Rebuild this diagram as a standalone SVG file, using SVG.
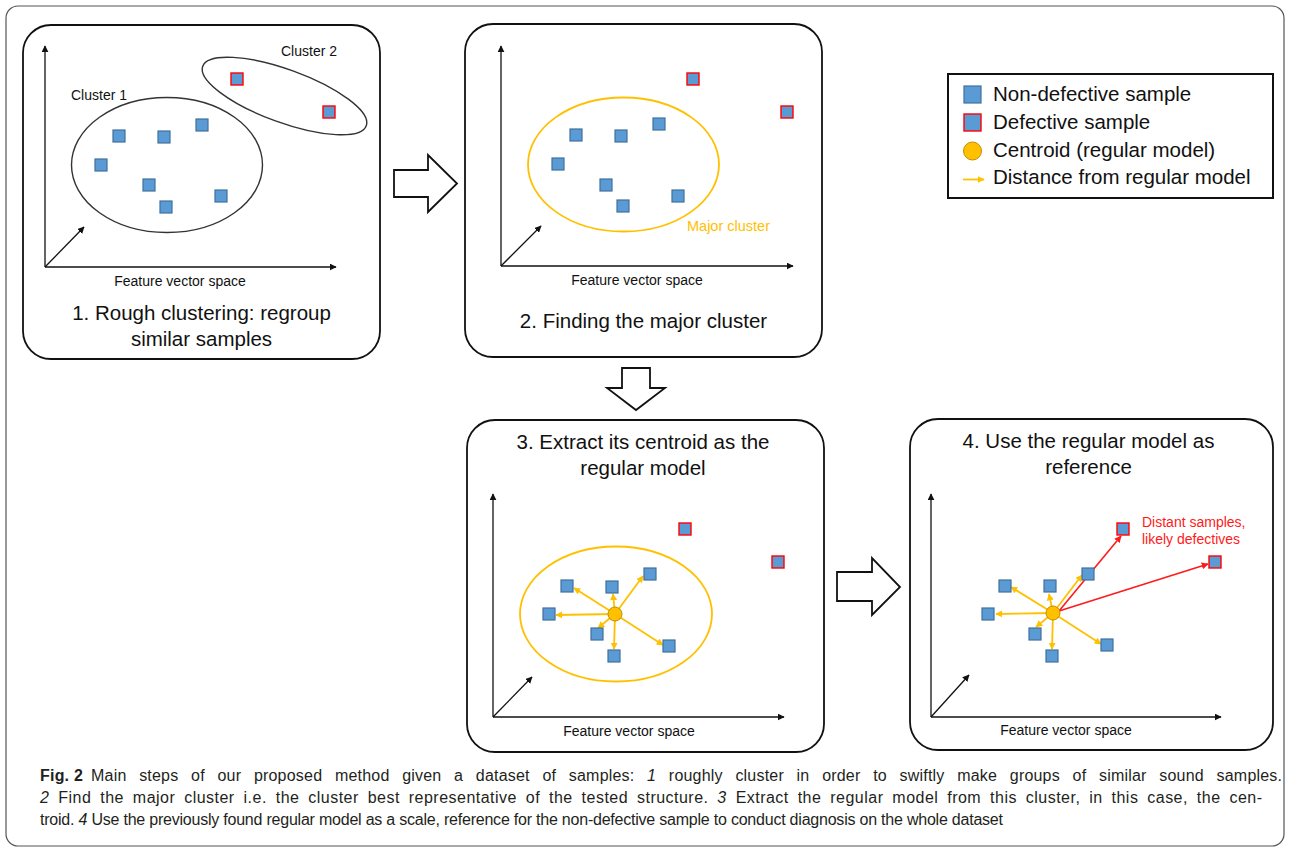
<svg xmlns="http://www.w3.org/2000/svg" width="1290" height="851" viewBox="0 0 1290 851">
<style>
.frame{fill:none;stroke:#111;stroke-width:1.8}
.ax{fill:none;stroke:#111;stroke-width:1.3}
.s{fill:#5B9BD5;stroke:#41719C;stroke-width:1.2}
.d{fill:#5B9BD5;stroke:#FF0000;stroke-width:1.4}
.cen{fill:#FFC000;stroke:#BF9000;stroke-width:1}
.oa{fill:none;stroke:#FFC000;stroke-width:1.8}
.ra{fill:none;stroke:#FF1A1A;stroke-width:1.6}
.el{fill:none;stroke:#333;stroke-width:1.4}
.eo{fill:none;stroke:#FFC000;stroke-width:1.8}
.blk{fill:#fff;stroke:#111;stroke-width:1.8;stroke-linejoin:miter}
text{font-family:"Liberation Sans",Arial,sans-serif;fill:#111}
.t{font-size:20.5px;text-anchor:middle}
.f{font-size:14px;text-anchor:middle}
.c{font-size:14px}
.lg{font-size:20.5px}
.cap{font-size:16px;fill:#231f20}
</style>
<defs>
<marker id="ah" viewBox="0 0 10 10" refX="9" refY="5" markerWidth="7" markerHeight="7" markerUnits="userSpaceOnUse" orient="auto"><path d="M0,0 L10,5 L0,10 z" fill="#111"/></marker>
<marker id="ao" viewBox="0 0 10 10" refX="9" refY="5" markerWidth="7" markerHeight="7" markerUnits="userSpaceOnUse" orient="auto"><path d="M0,0 L10,5 L0,10 z" fill="#FFC000"/></marker>
<marker id="ar" viewBox="0 0 10 10" refX="9" refY="5" markerWidth="7" markerHeight="7" markerUnits="userSpaceOnUse" orient="auto"><path d="M0,0 L10,5 L0,10 z" fill="#FF1A1A"/></marker>
</defs>

<rect x="6" y="6" width="1278" height="840" rx="12" fill="#fff" stroke="#555" stroke-width="1.2"/>

<g id="panel1">
<rect class="frame" x="23" y="25" width="357" height="334" rx="28"/>
<line class="ax" x1="45" y1="267" x2="45" y2="46" marker-end="url(#ah)"/>
<line class="ax" x1="45" y1="267" x2="336" y2="267" marker-end="url(#ah)"/>
<line class="ax" x1="45" y1="267" x2="84" y2="227" marker-end="url(#ah)"/>
<ellipse class="el" cx="167" cy="165" rx="95.5" ry="67.5"/>
<ellipse class="el" cx="284.5" cy="96" rx="87" ry="26.5" transform="rotate(20 284.5 96)"/>
<text class="c" x="71" y="100">Cluster 1</text>
<text class="c" x="281" y="56">Cluster 2</text>
<rect class="s" x="113" y="130" width="12" height="12"/>
<rect class="s" x="158" y="131" width="12" height="12"/>
<rect class="s" x="196" y="119" width="12" height="12"/>
<rect class="s" x="95" y="159" width="12" height="12"/>
<rect class="s" x="143" y="179" width="12" height="12"/>
<rect class="s" x="160" y="201" width="12" height="12"/>
<rect class="s" x="215" y="190" width="12" height="12"/>
<rect class="d" x="231" y="73" width="12" height="12"/>
<rect class="d" x="323" y="106" width="12" height="12"/>
<text class="f" x="180" y="286">Feature vector space</text>
<text class="t" x="201.5" y="320">1. Rough clustering: regroup</text>
<text class="t" x="201.5" y="346">similar samples</text>
</g>

<g id="panel2">
<rect class="frame" x="465" y="24" width="357" height="333" rx="28"/>
<line class="ax" x1="501" y1="266" x2="501" y2="46" marker-end="url(#ah)"/>
<line class="ax" x1="501" y1="266" x2="793" y2="266" marker-end="url(#ah)"/>
<line class="ax" x1="501" y1="266" x2="541" y2="226" marker-end="url(#ah)"/>
<ellipse class="eo" cx="623.5" cy="164.5" rx="95.5" ry="67"/>
<text class="c" x="687" y="231" style="fill:#FFC000;font-size:14.5px">Major cluster</text>
<rect class="s" x="570" y="129" width="12" height="12"/>
<rect class="s" x="615" y="130" width="12" height="12"/>
<rect class="s" x="653" y="118" width="12" height="12"/>
<rect class="s" x="552" y="158" width="12" height="12"/>
<rect class="s" x="600" y="179" width="12" height="12"/>
<rect class="s" x="617" y="200" width="12" height="12"/>
<rect class="s" x="672" y="190" width="12" height="12"/>
<rect class="d" x="687" y="73" width="12" height="12"/>
<rect class="d" x="781" y="106" width="12" height="12"/>
<text class="f" x="637" y="285">Feature vector space</text>
<text class="t" x="643.5" y="328">2. Finding the major cluster</text>
</g>

<g id="legend">
<rect x="948" y="74" width="325" height="124" fill="#fff" stroke="#111" stroke-width="2"/>
<rect class="s" x="964" y="86" width="17" height="17"/>
<rect class="d" x="964" y="114" width="17" height="17"/>
<circle class="cen" cx="972.5" cy="151" r="9"/>
<line class="oa" x1="963" y1="179.5" x2="984" y2="179.5" marker-end="url(#ao)"/>
<text class="lg" x="993" y="101">Non-defective sample</text>
<text class="lg" x="993" y="129">Defective sample</text>
<text class="lg" x="993" y="157">Centroid (regular model)</text>
<text class="lg" x="993" y="184">Distance from regular model</text>
</g>

<g id="panel3">
<rect class="frame" x="467" y="420" width="357" height="332" rx="28"/>
<line class="ax" x1="493" y1="717" x2="493" y2="494" marker-end="url(#ah)"/>
<line class="ax" x1="493" y1="717" x2="784" y2="717" marker-end="url(#ah)"/>
<line class="ax" x1="493" y1="717" x2="532" y2="677" marker-end="url(#ah)"/>
<ellipse class="eo" cx="616" cy="614" rx="96" ry="67.5"/>
<g>
<line class="oa" x1="615" y1="614" x2="574" y2="588" marker-end="url(#ao)"/>
<line class="oa" x1="615" y1="614" x2="613" y2="594" marker-end="url(#ao)"/>
<line class="oa" x1="615" y1="614" x2="643" y2="576" marker-end="url(#ao)"/>
<line class="oa" x1="615" y1="614" x2="556" y2="615" marker-end="url(#ao)"/>
<line class="oa" x1="615" y1="614" x2="598" y2="628" marker-end="url(#ao)"/>
<line class="oa" x1="615" y1="614" x2="614" y2="649" marker-end="url(#ao)"/>
<line class="oa" x1="615" y1="614" x2="663" y2="645" marker-end="url(#ao)"/>
</g>
<circle class="cen" cx="615" cy="614" r="7"/>
<rect class="s" x="561" y="580" width="12" height="12"/>
<rect class="s" x="606" y="581" width="12" height="12"/>
<rect class="s" x="644" y="568" width="12" height="12"/>
<rect class="s" x="543" y="608" width="12" height="12"/>
<rect class="s" x="591" y="628" width="12" height="12"/>
<rect class="s" x="608" y="650" width="12" height="12"/>
<rect class="s" x="663" y="640" width="12" height="12"/>
<rect class="d" x="679" y="523" width="12" height="12"/>
<rect class="d" x="772" y="556" width="12" height="12"/>
<text class="f" x="629" y="736">Feature vector space</text>
<text class="t" x="643" y="449">3. Extract its centroid as the</text>
<text class="t" x="643" y="475">regular model</text>
</g>

<g id="panel4">
<rect class="frame" x="910" y="419" width="363" height="331" rx="28"/>
<line class="ax" x1="931" y1="717" x2="931" y2="494" marker-end="url(#ah)"/>
<line class="ax" x1="931" y1="717" x2="1221" y2="717" marker-end="url(#ah)"/>
<line class="ax" x1="931" y1="717" x2="969" y2="675" marker-end="url(#ah)"/>
<g>
<line class="oa" x1="1053" y1="613" x2="1011" y2="587" marker-end="url(#ao)"/>
<line class="oa" x1="1053" y1="613" x2="1049" y2="594" marker-end="url(#ao)"/>
<line class="oa" x1="1053" y1="613" x2="1082" y2="575" marker-end="url(#ao)"/>
<line class="oa" x1="1053" y1="613" x2="996" y2="614" marker-end="url(#ao)"/>
<line class="oa" x1="1053" y1="613" x2="1036" y2="627" marker-end="url(#ao)"/>
<line class="oa" x1="1053" y1="613" x2="1052" y2="649" marker-end="url(#ao)"/>
<line class="oa" x1="1053" y1="613" x2="1101" y2="644" marker-end="url(#ao)"/>
<line class="ra" x1="1059" y1="611" x2="1121" y2="536" marker-end="url(#ar)"/>
<line class="ra" x1="1059" y1="611" x2="1208" y2="564" marker-end="url(#ar)"/>
</g>
<circle class="cen" cx="1053" cy="613" r="7"/>
<rect class="s" x="999" y="580" width="12" height="12"/>
<rect class="s" x="1044" y="580" width="12" height="12"/>
<rect class="s" x="1082" y="568" width="12" height="12"/>
<rect class="s" x="982" y="608" width="12" height="12"/>
<rect class="s" x="1029" y="628" width="12" height="12"/>
<rect class="s" x="1046" y="650" width="12" height="12"/>
<rect class="s" x="1101" y="639" width="12" height="12"/>
<rect class="d" x="1117" y="523" width="12" height="12"/>
<rect class="d" x="1209" y="556" width="12" height="12"/>
<text class="c" x="1142" y="527" style="fill:#FF1A1A">Distant samples,</text>
<text class="c" x="1142" y="544" style="fill:#FF1A1A">likely defectives</text>
<text class="f" x="1066" y="735">Feature vector space</text>
<text class="t" x="1088.5" y="448">4. Use the regular model as</text>
<text class="t" x="1088.5" y="474">reference</text>
</g>

<g id="connectors">
<polygon class="blk" points="394,170 428,170 428,155 457,183.5 428,212 428,197 394,197"/>
<polygon class="blk" points="622,368 650,368 650,388 665,388 636,410 607,388 622,388"/>
<polygon class="blk" points="837,572 872,572 872,558 900,587 872,615 872,601 837,601"/>
</g>

<g id="caption">
<text class="cap" x="40" y="781" textLength="1242" lengthAdjust="spacing"><tspan font-weight="bold">Fig. 2</tspan><tspan dx="8" word-spacing="8">Main steps of our proposed method given a dataset of samples: </tspan><tspan font-style="italic">1</tspan><tspan word-spacing="8"> roughly cluster in order to swiftly make groups of similar sound samples.</tspan></text>
<text class="cap" x="40" y="803" word-spacing="4" textLength="1222" lengthAdjust="spacing"><tspan font-style="italic">2</tspan> Find the major cluster i.e. the cluster best representative of the tested structure. <tspan font-style="italic">3</tspan> Extract the regular model from this cluster, in this case, the cen-</text>
<text class="cap" x="40" y="825" textLength="963" lengthAdjust="spacing">troid. <tspan font-style="italic">4</tspan> Use the previously found regular model as a scale, reference for the non-defective sample to conduct diagnosis on the whole dataset</text>
</g>
</svg>
